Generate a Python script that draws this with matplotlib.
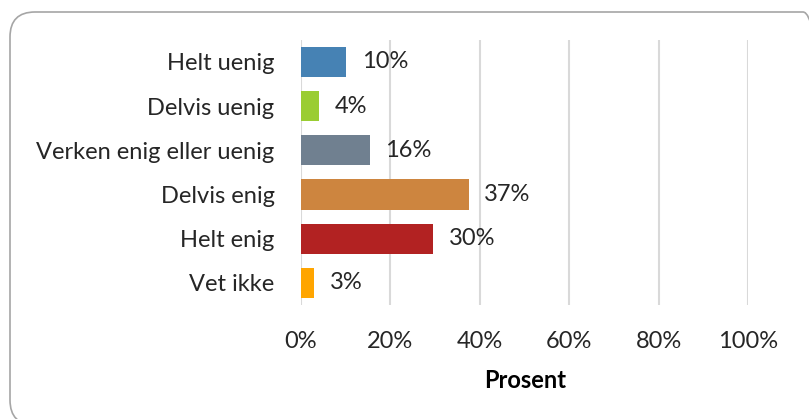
import matplotlib
matplotlib.use('Agg')
import matplotlib.pyplot as plt
from matplotlib.patches import FancyBboxPatch
from matplotlib.transforms import IdentityTransform

categories = ['Helt uenig', 'Delvis uenig', 'Verken enig eller uenig', 'Delvis enig', 'Helt enig', 'Vet ikke']
values = [10.1, 4.0, 15.4, 37.5, 29.6, 3.0]
value_labels = ['10%', '4%', '16%', '37%', '30%', '3%']
colors = ['#4682b4', '#9acd32', '#708090', '#cd853f', '#b22222', '#ffa500']
xticks = [0, 20, 40, 60, 80, 100]

plt.rcParams['font.family'] = ['Lato', 'DejaVu Sans']
fs = 17

fig = plt.figure(figsize=(8.09, 4.19), dpi=100)
ax = fig.add_axes([0.372, 0.272, 0.553, 0.633])

y = list(range(len(categories)))
ax.barh(y, values, height=0.68, color=colors, zorder=3)
for yi, v, lab in zip(y, values, value_labels):
    ax.text(v + 3.5, yi, lab, va='center', ha='left', fontsize=fs, color='#262626')

ax.set_xlim(0, 100)
ax.set_ylim(len(categories) - 0.5, -0.5)
ax.set_yticks(y)
ax.set_yticklabels(categories, fontsize=fs, color='#262626')
ax.set_xticks(xticks)
ax.set_xticklabels([f'{t}%' for t in xticks], fontsize=fs, color='#262626')
ax.tick_params(length=0)
ax.tick_params(axis='y', pad=19)
ax.tick_params(axis='x', pad=19)
ax.grid(axis='x', color='#d9d9d9', linewidth=1.5, zorder=0)
for s in ax.spines.values():
    s.set_visible(False)
ax.set_xlabel('Prosent', fontsize=17, fontweight='bold', labelpad=12)

border = FancyBboxPatch((10, -6), 818, 413, boxstyle='round,pad=0,rounding_size=25',
                        transform=IdentityTransform(), facecolor='none',
                        edgecolor='#a6a6a6', linewidth=1.2)
fig.patches.append(border)

fig.savefig('out.png', dpi=100)
